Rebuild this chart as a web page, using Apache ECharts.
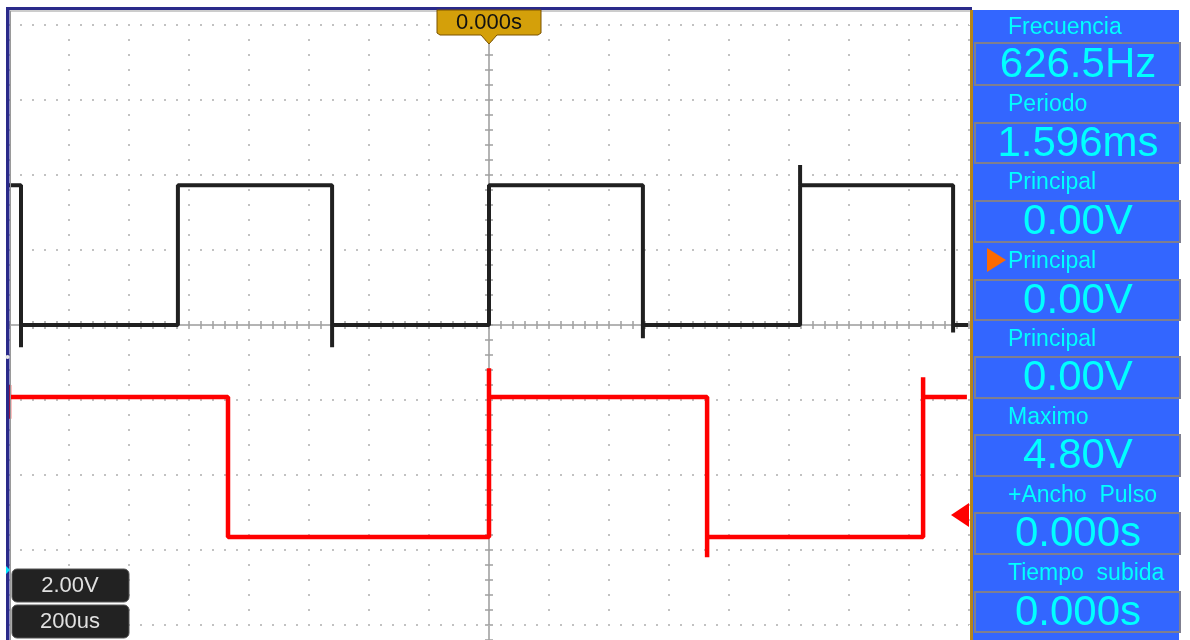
<!DOCTYPE html>
<html>
<head>
<meta charset="utf-8">
<script src="https://cdn.jsdelivr.net/npm/echarts@6/dist/echarts.min.js"></script>
<style>
html,body{margin:0;padding:0;background:#fff;}
#c{width:1190px;height:640px;}
</style>
</head>
<body>
<div id="c"></div>
<script>
// time axis in microseconds (200us/div, 16 div), voltage axis in volts (2.00V/div, 8 div)
const timeMin = -1600, timeMax = 1600, timeDiv = 200;
const voltMin = -8, voltMax = 8, voltDiv = 2;

// CH1 (black) trace points [time_us, volts] including edge overshoots
const ch1Points = [
  [-1600, 3.73], [-1560, 3.73], [-1560, -0.59], [-1560, 0],
  [-1037, 0], [-1037, 3.73],
  [-523, 3.73], [-523, -0.59], [-523, 0],
  [0, 0], [0, 3.73],
  [513, 3.73], [513, -0.35], [513, 0],
  [1037, 0], [1037, 4.27], [1037, 3.73],
  [1547, 3.73], [1547, -0.2], [1547, 0],
  [1597, 0]
];

// CH2 (red) trace points [time_us, volts as displayed with offset]
const ch2Points = [
  [-1600, -2.5], [-1600, -1.6], [-1600, -1.92],
  [-870, -1.92], [-870, -5.65],
  [0, -5.65], [0, -1.15], [0, -1.92],
  [727, -1.92], [727, -6.19], [727, -5.65],
  [1447, -5.65], [1447, -1.39], [1447, -1.92],
  [1593, -1.92]
];

// measurement panel (label, value)
const measLabels = ['Frecuencia', 'Periodo', 'Principal', 'Principal', 'Principal', 'Maximo', '+Ancho  Pulso', 'Tiempo  subida'];
const measValues = ['626.5Hz', '1.596ms', '0.00V', '0.00V', '0.00V', '4.80V', '0.000s', '0.000s'];
const triggerTimeLabel = '0.000s';
const voltScaleLabel = '2.00V';
const timeScaleLabel = '200us';

const chart = echarts.init(document.getElementById('c'), null, {renderer: 'canvas'});

const gridL = 9, gridT = 25, gridW = 960, gridH = 600;
const axisGray = '#b4b4b4';
const tickGray = '#a0a0a0';
const dotGray = '#c2c2c2';

function xAxisCfg(pos, withSplit) {
  return {
    type: 'value', min: timeMin, max: timeMax, interval: timeDiv,
    position: pos, offset: -gridH / 2,
    axisLine: {show: true, onZero: false, lineStyle: {color: axisGray, width: 2}},
    axisTick: {show: true, inside: false, length: 4, lineStyle: {color: tickGray, width: 1.5}},
    minorTick: {show: true, splitNumber: 5, length: 4, lineStyle: {color: tickGray, width: 1.5}},
    axisLabel: {show: false},
    splitLine: {show: withSplit, lineStyle: {color: dotGray, width: 2, type: [2, 13], dashOffset: 1}},
    minorSplitLine: {show: false}
  };
}
function yAxisCfg(pos, withSplit) {
  return {
    type: 'value', min: voltMin, max: voltMax, interval: voltDiv,
    position: pos, offset: -gridW / 2,
    axisLine: {show: true, onZero: false, lineStyle: {color: axisGray, width: 2}},
    axisTick: {show: true, inside: false, length: 4, lineStyle: {color: tickGray, width: 1.5}},
    minorTick: {show: true, splitNumber: 5, length: 4, lineStyle: {color: tickGray, width: 1.5}},
    axisLabel: {show: false},
    splitLine: {show: withSplit, lineStyle: {color: dotGray, width: 2, type: [2, 10], dashOffset: 1}},
    minorSplitLine: {show: false}
  };
}

// panel geometry (row separators)
const panelX = 974, panelR = 1179;
const rowEdges = [10, 43, 85, 123, 163, 201, 242, 280, 320, 357, 398, 435, 476, 513, 554, 592, 632];

const graphics = [];
// frame
graphics.push({type: 'rect', shape: {x: 6, y: 7, width: 966, height: 3}, style: {fill: '#2a2a8a'}, z: 20});
graphics.push({type: 'rect', shape: {x: 6, y: 7, width: 3.5, height: 633}, style: {fill: '#2a2a8a'}, z: 20});
graphics.push({type: 'line', shape: {x1: 10, y1: 11, x2: 970, y2: 11}, style: {stroke: '#9a9a9a', lineWidth: 1}, z: 20});
graphics.push({type: 'line', shape: {x1: 10.5, y1: 11, x2: 10.5, y2: 640}, style: {stroke: '#9a9a9a', lineWidth: 1}, z: 20});
// vertical center axis extension below grid
graphics.push({type: 'line', shape: {x1: 489, y1: 625, x2: 489, y2: 640}, style: {stroke: axisGray, lineWidth: 2}, z: 1});
graphics.push({type: 'line', shape: {x1: 485, y1: 640, x2: 493, y2: 640}, style: {stroke: tickGray, lineWidth: 1.5}, z: 1});
// panel
graphics.push({type: 'rect', shape: {x: 970, y: 10, width: 3, height: 630}, style: {fill: '#b5851a'}, z: 20});
graphics.push({type: 'rect', shape: {x: panelX - 1, y: 10, width: panelR - panelX + 1, height: 630}, style: {fill: '#3366ff'}, z: 20});
for (let i = 0; i < measLabels.length; i++) {
  const lt = rowEdges[2 * i], lb = rowEdges[2 * i + 1], vb = rowEdges[2 * i + 2];
  // value cell box
  graphics.push({type: 'rect', shape: {x: panelX + 1, y: lb, width: panelR - panelX, height: vb - lb},
    style: {fill: 'none', stroke: '#7f7f8f', lineWidth: 2}, z: 21});
  graphics.push({type: 'text', x: 1008, y: (lt + lb) / 2 + 1,
    style: {text: measLabels[i], fill: '#00ffff', font: '23px "Liberation Sans", Arial, sans-serif', textAlign: 'left', textVerticalAlign: 'middle'}, z: 22});
  graphics.push({type: 'text', x: 1078, y: (lb + vb) / 2 + 1,
    style: {text: measValues[i], fill: '#00ffff', font: '42px "Liberation Sans", Arial, sans-serif', textAlign: 'center', textVerticalAlign: 'middle'}, z: 22});
}
// orange selection arrow
graphics.push({type: 'polygon', shape: {points: [[987, 248], [1006, 260], [987, 272]]}, style: {fill: '#ff6a00'}, z: 22});
// trigger time marker
graphics.push({type: 'polygon', shape: {points: [[437, 10], [541, 10], [541, 33], [538, 35], [497, 35], [489, 44], [481, 35], [440, 35], [437, 33]]},
  style: {fill: '#d4a00a', stroke: '#7a5200', lineWidth: 1}, z: 23});
graphics.push({type: 'text', x: 489, y: 23, style: {text: triggerTimeLabel, fill: '#111', font: '22px "Liberation Sans", Arial, sans-serif', textAlign: 'center', textVerticalAlign: 'middle'}, z: 24});
// trigger level marker
graphics.push({type: 'polygon', shape: {points: [[951, 515], [969, 503], [969, 527]]}, style: {fill: '#ff0000'}, z: 23});
// left channel markers
graphics.push({type: 'polygon', shape: {points: [[6, 566], [10, 570], [6, 574]]}, style: {fill: '#00e5ff'}, z: 23});
graphics.push({type: 'circle', shape: {cx: 7.5, cy: 357, r: 2}, style: {fill: '#e8e8e8'}, z: 23});
// scale boxes
graphics.push({type: 'rect', shape: {x: 12, y: 569, width: 117, height: 33, r: 5}, style: {fill: '#222', stroke: '#555', lineWidth: 1}, z: 23});
graphics.push({type: 'text', x: 70, y: 586, style: {text: voltScaleLabel, fill: '#e0e0e0', font: '22px "Liberation Sans", Arial, sans-serif', textAlign: 'center', textVerticalAlign: 'middle'}, z: 24});
graphics.push({type: 'rect', shape: {x: 12, y: 605, width: 117, height: 33, r: 5}, style: {fill: '#222', stroke: '#555', lineWidth: 1}, z: 23});
graphics.push({type: 'text', x: 70, y: 622, style: {text: timeScaleLabel, fill: '#e0e0e0', font: '22px "Liberation Sans", Arial, sans-serif', textAlign: 'center', textVerticalAlign: 'middle'}, z: 24});

chart.setOption({
  animation: false,
  backgroundColor: '#ffffff',
  grid: {left: gridL, top: gridT, width: gridW, height: gridH, containLabel: false, outerBoundsMode: 'none'},
  xAxis: [xAxisCfg('bottom', true), xAxisCfg('top', false)],
  yAxis: [yAxisCfg('left', true), yAxisCfg('right', false)],
  series: [
    {type: 'line', name: 'CH1', xAxisIndex: 0, yAxisIndex: 0, data: ch1Points, showSymbol: false, symbol: 'none',
      lineStyle: {color: '#202020', width: 4}, z: 5, clip: false},
    {type: 'line', name: 'CH2', xAxisIndex: 0, yAxisIndex: 0, data: ch2Points, showSymbol: false, symbol: 'none',
      lineStyle: {color: '#ff0000', width: 4.5}, z: 5, clip: false}
  ],
  graphic: {elements: graphics}
});
</script>
</body>
</html>
